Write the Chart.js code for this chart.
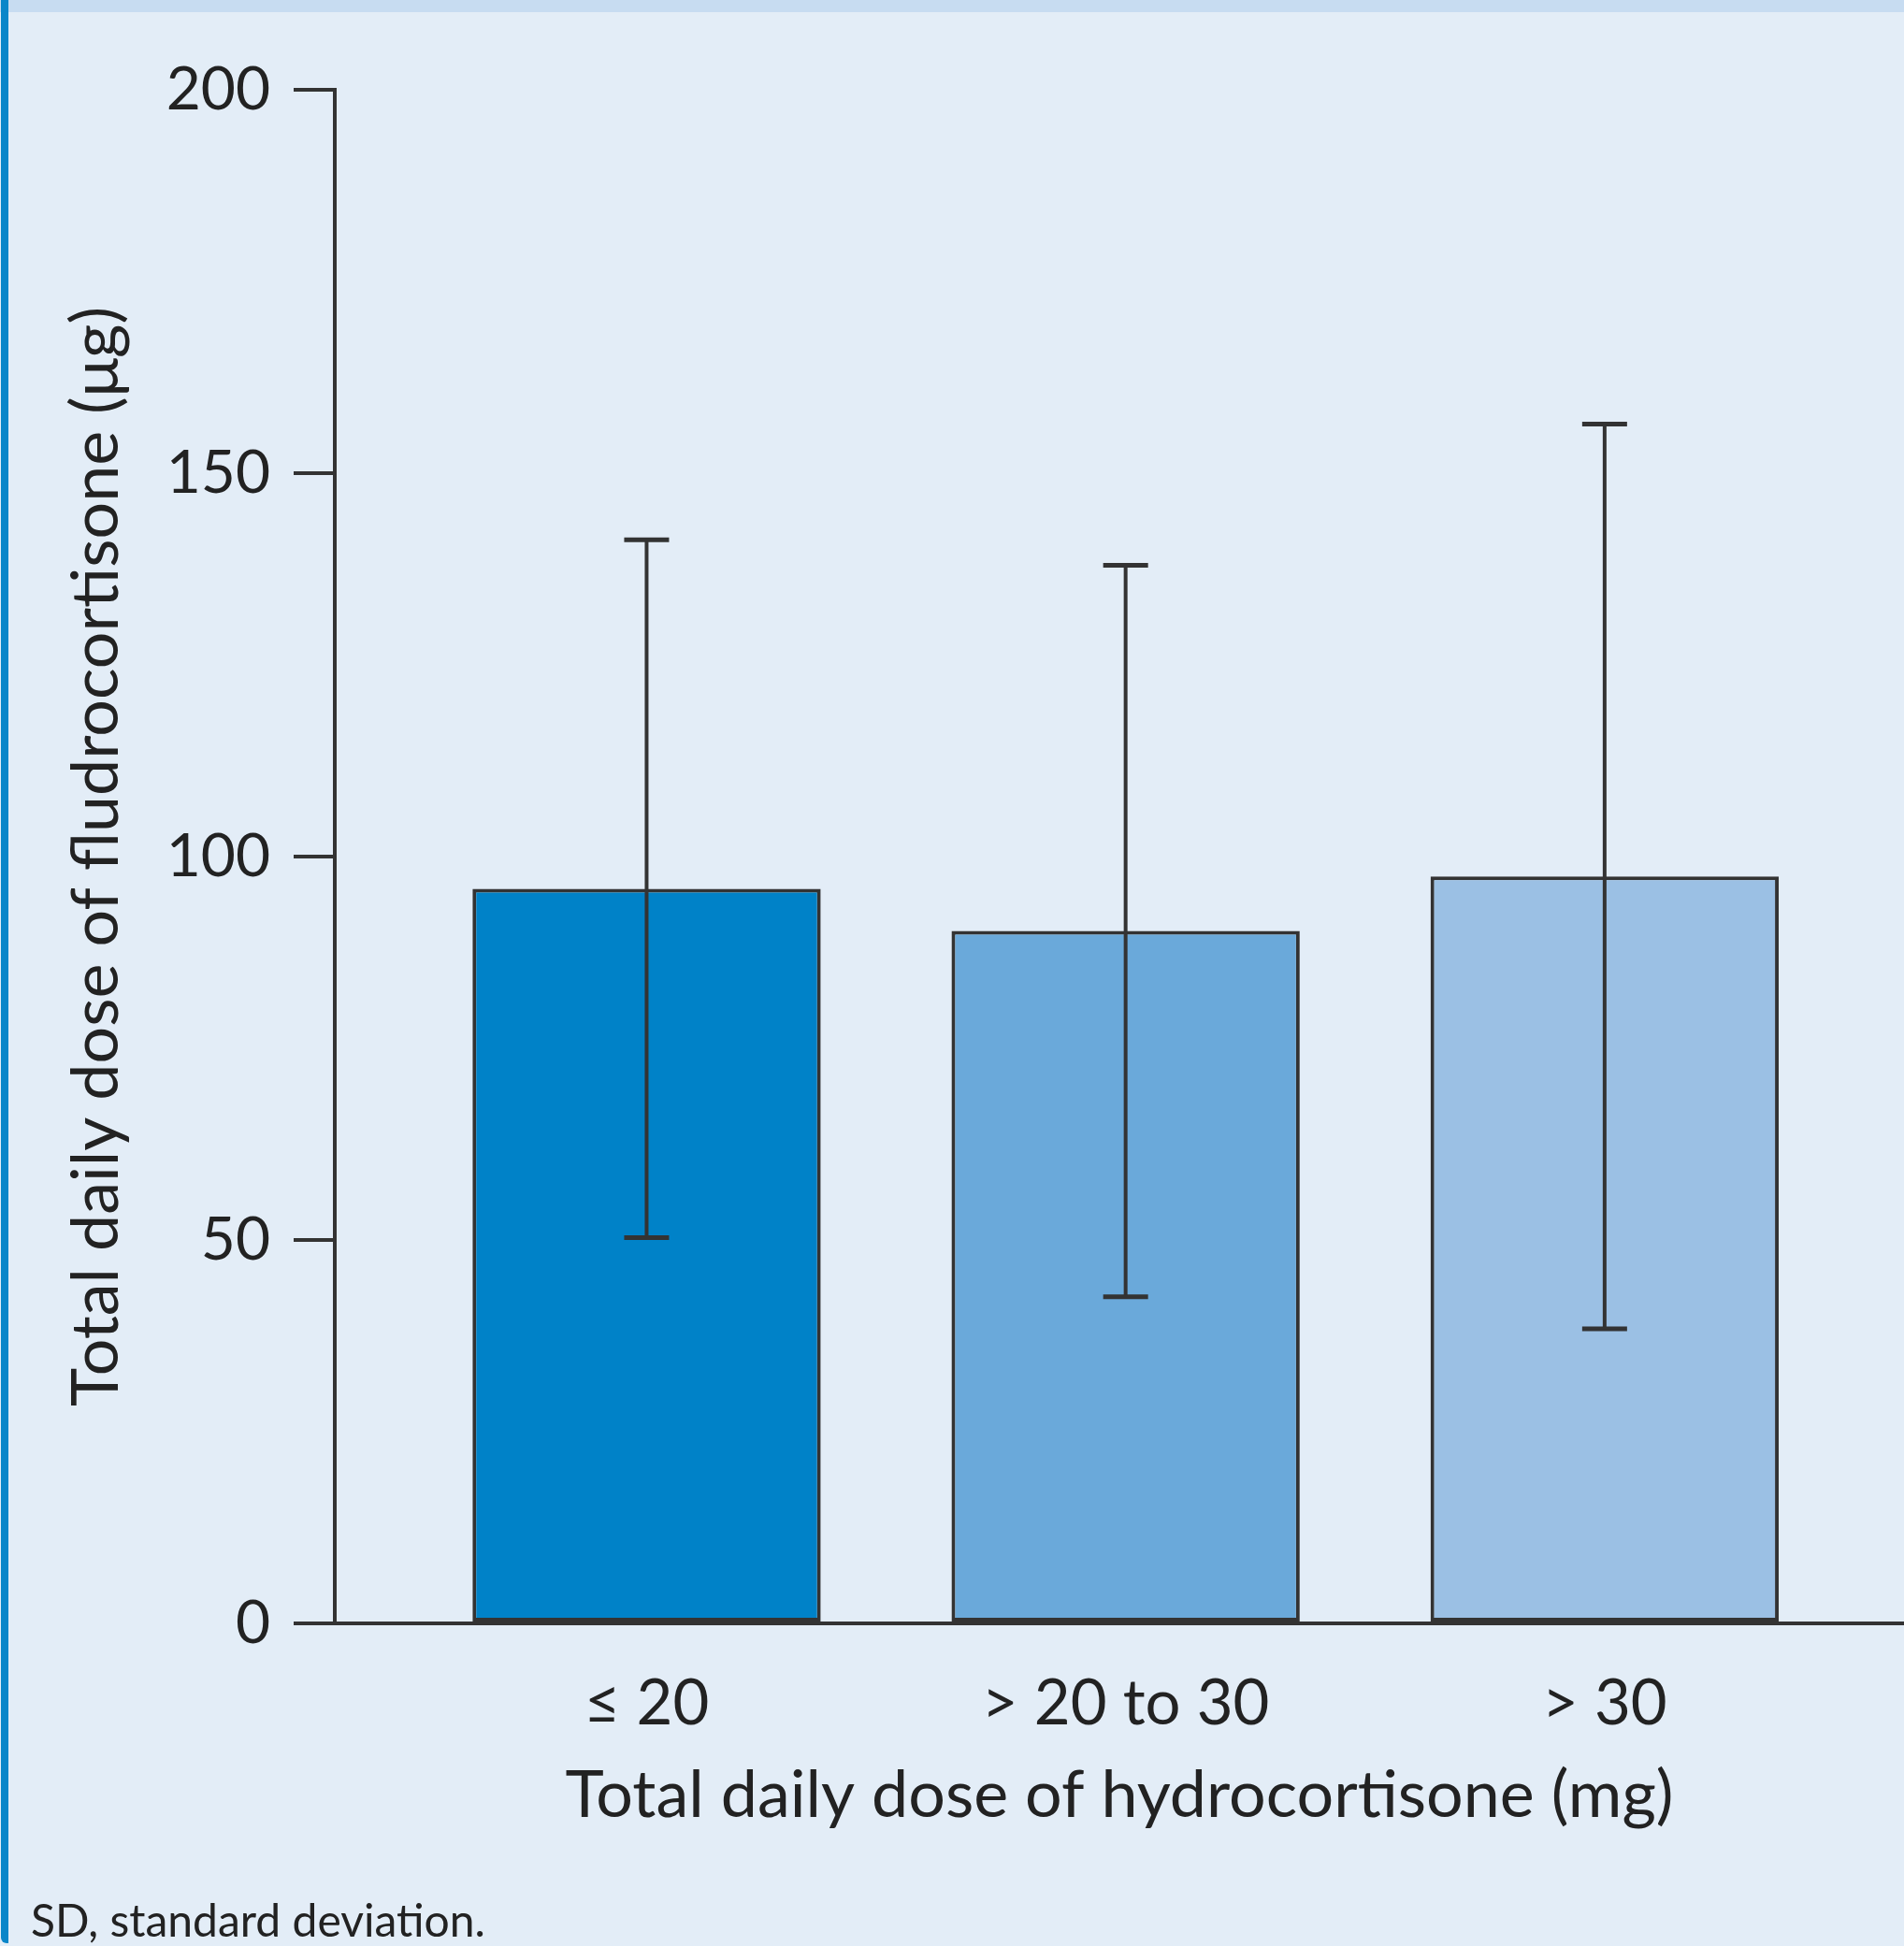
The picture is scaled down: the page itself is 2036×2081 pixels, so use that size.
<!DOCTYPE html>
<html>
<head>
<meta charset="utf-8">
<script src="https://cdn.jsdelivr.net/npm/chart.js@4.4.0/dist/chart.umd.min.js"></script>
<style>
  html, body { margin: 0; padding: 0; }
  body { width: 2036px; height: 2081px; background: #e3edf7; position: relative; overflow: hidden; font-family: Lato, "Open Sans", sans-serif; }
  #topband { position: absolute; left: 0; top: 0; width: 2036px; height: 13px; background: #c7dcf1; }
  #leftline { position: absolute; left: 1px; top: 0; width: 8px; height: 2078px; background: #0a86c9; border-bottom-left-radius: 6px; }
  #chart { position: absolute; left: 0; top: 0; }
  #note { position: absolute; left: 33px; top: 2024px; font-size: 48px; color: #222; white-space: nowrap; }
</style>
</head>
<body>
<div id="topband"></div>
<div id="leftline"></div>
<canvas id="chart" width="2036" height="2081"></canvas>
<div id="note">SD, standard deviation.</div>
<script>
// ข้อมูลกราฟ
const categories = ["≤ 20", "> 20 to 30", "> 30"];
const means = [95.8, 90.3, 97.4];
const sds = [45.5, 47.7, 59.0];
const yTicks = [0, 50, 100, 150, 200];

const barColors = ["#0082c8", "#6aa9da", "#9bc0e4"];
const inkColor = "#333333";
const textColor = "#222222";

// วาด error bar (ค่าเฉลี่ย ± SD) บนแต่ละแท่ง
const errorBars = {
  id: "errorBars",
  afterDatasetsDraw(chart) {
    const ctx = chart.ctx;
    const yScale = chart.scales.y;
    const meta = chart.getDatasetMeta(0);
    const half = 24;
    ctx.save();
    ctx.strokeStyle = inkColor;
    meta.data.forEach((bar, i) => {
      const top = yScale.getPixelForValue(means[i] + sds[i]);
      const bottom = yScale.getPixelForValue(means[i] - sds[i]);
      // เส้นแนวตั้ง
      ctx.lineWidth = 4;
      ctx.beginPath();
      ctx.moveTo(bar.x, top);
      ctx.lineTo(bar.x, bottom);
      ctx.stroke();
      // ขีดปลายบนและล่าง
      ctx.lineWidth = 5;
      ctx.beginPath();
      ctx.moveTo(bar.x - half, top);
      ctx.lineTo(bar.x + half, top);
      ctx.moveTo(bar.x - half, bottom);
      ctx.lineTo(bar.x + half, bottom);
      ctx.stroke();
    });
    ctx.restore();
  }
};

function buildChart() {
  const ctx = document.getElementById("chart");
  new Chart(ctx, {
    type: "bar",
    data: {
      datasets: [
        {
          data: means.map((m, i) => ({ x: i, y: m })),
          backgroundColor: barColors,
          borderColor: inkColor,
          borderWidth: 4,
          borderSkipped: false,
          categoryPercentage: 1,
          barPercentage: 0.727
        }
      ]
    },
    options: {
      responsive: false,
      animation: false,
      devicePixelRatio: 1,
      layout: { padding: { top: 96, left: 0, right: 0, bottom: 0 } },
      plugins: {
        legend: { display: false },
        tooltip: { enabled: false }
      },
      scales: {
        x: {
          type: "linear",
          offset: false,
          min: -0.651,
          max: 2.625,
          afterBuildTicks: (s) => { s.ticks = categories.map((c, i) => ({ value: i })); },
          afterFit: (s) => { s.height = 345; },
          grid: { display: false, offset: false },
          border: { display: true, color: inkColor, width: 4 },
          ticks: {
            callback: (v) => categories[v],
            padding: 38,
            color: textColor,
            font: { family: "Lato", size: 67 },
            maxRotation: 0,
            autoSkip: false
          },
          title: {
            display: true,
            text: "Total daily dose of hydrocortisone (mg)",
            color: textColor,
            font: { family: "Lato", size: 70, lineHeight: 1.2 },
            padding: { top: 0, bottom: 119 }
          }
        },
        y: {
          min: yTicks[0],
          max: yTicks[yTicks.length - 1],
          afterBuildTicks: (s) => { s.ticks = yTicks.map((v) => ({ value: v })); },
          afterFit: (s) => { s.width = 358; },
          grid: { drawOnChartArea: false, drawTicks: true, tickLength: 44, color: inkColor, lineWidth: 4 },
          border: { display: true, color: inkColor, width: 4 },
          ticks: {
            padding: 25,
            color: textColor,
            font: { family: "Lato", size: 64 }
          },
          title: {
            display: true,
            text: "Total daily dose of fludrocortisone (μg)",
            color: textColor,
            font: { family: "Lato", size: 70, lineHeight: 1.2 },
            padding: { top: 61, bottom: 0 }
          }
        }
      }
    },
    plugins: [errorBars]
  });
}

buildChart();
</script>
</body>
</html>
